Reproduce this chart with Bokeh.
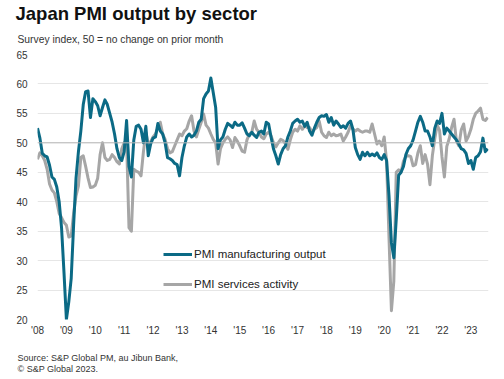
from bokeh.plotting import figure
from bokeh.models import Legend, LegendItem, Span, FixedTicker, ColumnDataSource, Title
from bokeh.embed import file_html
from bokeh.resources import INLINE

# ---- data (monthly, Jan 2008 - Aug 2023) ----
start_year = 2008
manufacturing = [
    52.5, 50.8, 48.2, 47.8, 47.6, 46.2, 44.2, 43.8, 42.5, 40.0, 35.5, 28.0,   # 2008
    20.0, 23.0, 27.0, 36.0, 44.0, 48.5, 52.0, 56.5, 58.7, 58.8, 54.3, 57.5,   # 2009
    57.0, 56.3, 54.6, 56.0, 57.3, 56.5, 55.0, 53.5, 51.5, 49.0, 47.5, 47.0,   # 2010
    48.5, 53.8, 46.0, 44.2, 50.5, 52.8, 53.0, 52.3, 50.0, 52.8, 47.8, 49.8,   # 2011
    50.8, 51.0, 53.3, 52.0, 51.5, 50.0, 47.5, 47.3, 47.0, 46.5, 46.3, 44.4,   # 2012
    47.5, 49.5, 51.0, 51.5, 51.0, 51.3, 52.0, 53.5, 54.0, 57.5, 58.3, 58.8,   # 2013
    61.0, 58.5, 56.0, 49.0, 50.5, 51.0, 52.3, 53.3, 53.0, 52.6, 53.5, 53.0,   # 2014
    53.0, 53.4, 52.5, 51.5, 51.2, 51.8, 51.3, 50.9, 51.8, 52.0, 51.5, 53.5,   # 2015
    53.2, 51.0, 49.0, 47.8, 46.4, 48.0, 49.0, 49.5, 51.0, 52.0, 53.3, 53.7,   # 2016
    54.0, 53.5, 53.7, 52.8, 53.5, 52.0, 51.3, 52.5, 53.5, 54.3, 54.6, 54.5,   # 2017
    54.8, 53.5, 54.3, 53.0, 53.7, 53.2, 52.6, 52.9, 52.5, 53.3, 53.7, 52.3,   # 2018
    49.2, 48.0, 47.2, 48.4, 47.8, 48.4, 47.8, 48.1, 47.8, 48.3, 47.5, 47.2,   # 2019
    48.0, 47.0, 41.0, 33.0, 30.5, 37.0, 44.5, 45.0, 46.0, 48.0, 49.0, 49.5,   # 2020
    50.5, 52.0, 53.5, 54.5, 53.5, 52.0, 52.0, 51.0, 49.5, 52.5, 53.7, 53.3,   # 2021
    55.0, 51.5, 52.5, 52.0, 51.5, 51.0, 50.5, 49.8, 49.0, 48.8, 48.2, 46.5,   # 2022
    47.0, 45.5, 47.5, 47.8, 48.5, 50.8, 48.5, 49.0,                           # 2023
]
services = [
    47.2, 48.3, 47.8, 47.0, 45.5, 43.0, 42.0, 41.5, 40.0, 38.0, 37.3, 36.5,   # 2008
    36.0, 34.0, 34.2, 38.0, 41.0, 42.7, 47.5, 47.8, 46.0, 44.0, 42.4, 42.5,   # 2009
    42.8, 44.0, 48.0, 50.0, 47.5, 47.0, 47.2, 48.0, 47.5, 46.8, 46.4, 49.0,   # 2010
    50.0, 50.3, 35.6, 35.0, 45.5, 45.2, 45.0, 44.4, 48.5, 51.8, 49.8, 50.2,   # 2011
    51.0, 51.5, 52.5, 53.5, 51.5, 50.6, 49.0, 48.3, 48.5, 49.5, 50.5, 51.5,   # 2012
    51.2, 52.0, 52.4, 53.7, 54.6, 52.0, 51.0, 52.3, 53.5, 54.9, 53.0, 52.5,   # 2013
    51.5, 50.6, 50.0, 46.4, 49.0, 50.0, 50.6, 51.0, 50.5, 49.2, 50.9, 50.3,   # 2014
    49.5, 48.6, 48.4, 50.5, 51.5, 51.8, 53.7, 52.3, 51.8, 51.0, 50.7, 51.5,   # 2015
    51.8, 51.2, 50.0, 49.3, 50.0, 50.6, 50.4, 49.8, 48.9, 50.5, 51.8, 52.3,   # 2016
    52.0, 52.9, 52.3, 52.9, 52.6, 52.6, 51.8, 52.3, 52.6, 53.7, 51.8, 51.2,   # 2017
    50.9, 51.8, 51.2, 51.5, 51.2, 51.3, 51.5, 50.3, 51.0, 51.8, 52.9, 52.3,   # 2018
    52.0, 52.3, 52.0, 51.8, 52.0, 52.0, 51.8, 53.2, 51.5, 49.8, 50.3, 49.5,   # 2019
    51.0, 46.8, 33.8, 21.5, 26.5, 45.0, 45.4, 45.0, 46.9, 47.7, 47.8, 47.7,   # 2020
    46.1, 46.3, 48.3, 49.5, 46.5, 48.0, 46.4, 42.9, 47.8, 50.7, 53.0, 52.1,   # 2021
    47.6, 44.2, 49.4, 50.7, 52.6, 54.0, 50.3, 49.5, 52.2, 53.2, 50.3, 51.1,   # 2022
    52.3, 54.0, 55.0, 55.4, 55.9, 54.0, 53.8, 54.3,                           # 2023
]
tick_years = list(range(2008, 2024))
tick_labels = ["'08", "'09", "'10", "'11", "'12", "'13", "'14", "'15",
               "'16", "'17", "'18", "'19", "'20", "'21", "'22", "'23"]
y_ticks = [20, 25, 30, 35, 40, 45, 50, 55, 60, 65]
title_text = "Japan PMI output by sector"
subtitle_text = "Survey index, 50 = no change on prior month"
source_lines = ["Source: S&P Global PM, au Jibun Bank,", "\u00a9 S&P Global 2023."]

months = [start_year + i / 12 for i in range(len(manufacturing))]
src = ColumnDataSource(dict(x=months, mfg=manufacturing, svc=services))

FONT = "Liberation Sans"
TEAL = "#0b6a85"
GREY = "#a6a6a6"

p = figure(width=504, height=373, title=None, x_range=(2008, 2023.61), y_range=(20, 65),
           output_backend="svg", toolbar_location=None, tools="",
           min_border_left=37, min_border_right=16, min_border_top=54, min_border_bottom=53)
p.outline_line_color = None

p.xaxis.ticker = FixedTicker(ticks=tick_years)
p.xaxis.major_label_overrides = {y: l for y, l in zip(tick_years, tick_labels)}
p.yaxis.ticker = FixedTicker(ticks=y_ticks)
for ax in (p.xaxis[0], p.yaxis[0]):
    ax.axis_line_color = None
    ax.major_tick_line_color = None
    ax.minor_tick_line_color = None
    ax.major_tick_out = 0
    ax.major_tick_in = 0
    ax.major_label_text_font = FONT
    ax.major_label_text_font_size = "10px"
    ax.major_label_text_color = "#333333"
p.yaxis.major_label_standoff = 10
p.xaxis.major_label_standoff = 5
p.xgrid.grid_line_color = None
p.ygrid.ticker = FixedTicker(ticks=y_ticks)
p.ygrid.grid_line_color = "#e6e6e6"
p.ygrid.grid_line_width = 1

p.add_layout(Span(location=50, dimension="width", line_color="#b8b8b8", line_width=1))

r_svc = p.line("x", "svc", source=src, line_color=GREY, line_width=3, line_join="round")
r_mfg = p.line("x", "mfg", source=src, line_color=TEAL, line_width=3, line_join="round")

legend = Legend(items=[LegendItem(label="PMI manufacturing output", renderers=[r_mfg]),
                       LegendItem(label="PMI services activity", renderers=[r_svc])],
                location=(126, 26), orientation="vertical", glyph_width=29, glyph_height=18,
                label_height=18, label_standoff=2, spacing=12, padding=0, margin=0,
                background_fill_alpha=0, border_line_alpha=0,
                label_text_font=FONT, label_text_font_size="11.5px", label_text_color="#222222")
p.add_layout(legend)


def spacer(gap):
    return Title(text="\u00a0", text_font_size="1px", standoff=gap, align="left")


def text_title(txt, size, style, color, dx, line_height=1.2):
    return Title(text=txt, text_font=FONT, text_font_size=size, text_font_style=style,
                 text_color=color, align="left", offset=dx, standoff=0,
                 text_line_height=line_height)


# above: stacked outward from the plot frame
p.add_layout(spacer(7.3), "above")
p.add_layout(text_title(subtitle_text, "10.3px", "normal", "#333333", -20), "above")
p.add_layout(spacer(4.5), "above")
p.add_layout(text_title(title_text, "18.5px", "bold", "#111111", -22), "above")

# below: stacked outward from the x axis
p.add_layout(spacer(9.2), "below")
p.add_layout(text_title("\n".join(source_lines), "9px", "normal", "#333333", -20,
                        line_height=1.1), "below")

open("out.html", "w").write(file_html(p, INLINE))
